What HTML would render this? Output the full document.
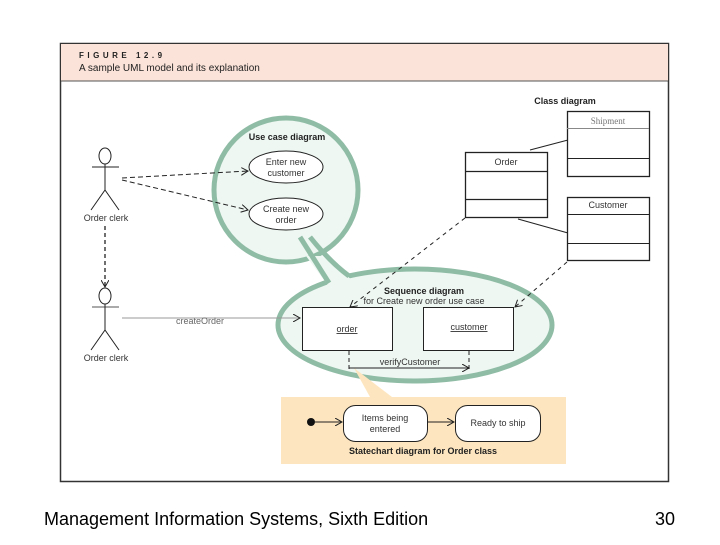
<!DOCTYPE html>
<html><head><style>
body{margin:0;background:#fff;width:720px;height:540px;overflow:hidden;font-family:"Liberation Sans",sans-serif}
</style></head><body>
<svg width="720" height="540" xmlns="http://www.w3.org/2000/svg" font-family="Liberation Sans, sans-serif">
<defs><marker id="a" markerWidth="8" markerHeight="8" refX="7" refY="4" orient="auto" markerUnits="userSpaceOnUse"><path d="M0,0 L7,4 L0,8" fill="none" stroke="#222" stroke-width="1"/></marker></defs>
<rect x="60.5" y="43.5" width="608" height="438" fill="#fff" stroke="#333" stroke-width="1.5"/>
<rect x="61" y="44" width="607" height="37" fill="#fbe3d9"/>
<line x1="61" y1="81" x2="668" y2="81" stroke="#555"/>
<text x="79" y="58" font-size="8" font-weight="bold" letter-spacing="3.5" fill="#222">FIGURE 12.9</text>
<text x="79" y="71" font-size="10" fill="#222">A sample UML model and its explanation</text>
<ellipse cx="415" cy="325" rx="137" ry="56" fill="#eef7f2" stroke="#8fbca5" stroke-width="5"/>
<ellipse cx="286" cy="190" rx="72" ry="72" fill="#eef7f2" stroke="#8fbca5" stroke-width="5"/>
<polygon points="306,256 322,256 352,280 330,288" fill="#eef7f2"/>
<g stroke="#8fbca5" stroke-width="5" fill="none">
<line x1="300" y1="237" x2="329" y2="283"/>
<path d="M310,237 Q330,262 349,276"/>
</g>
<rect x="281" y="397" width="285" height="67" fill="#fde6bf"/>
<path d="M354,368 L370,397 L392,397 Z" fill="#fde6bf"/>
<text x="287" y="140" font-size="9" font-weight="bold" text-anchor="middle" fill="#222">Use case diagram</text>
<ellipse cx="286" cy="167" rx="37" ry="16" fill="#fff" stroke="#222"/>
<text x="286" y="165" font-size="9" text-anchor="middle" fill="#333">Enter new</text>
<text x="286" y="176" font-size="9" text-anchor="middle" fill="#333">customer</text>
<ellipse cx="286" cy="214" rx="37" ry="16" fill="#fff" stroke="#222"/>
<text x="286" y="212" font-size="9" text-anchor="middle" fill="#333">Create new</text>
<text x="286" y="223" font-size="9" text-anchor="middle" fill="#333">order</text>
<g stroke="#222" fill="none">
<ellipse cx="105" cy="156" rx="6" ry="8"/><line x1="92" y1="167" x2="119" y2="167"/><line x1="105" y1="164" x2="105" y2="190"/><path d="M91,210 L105,190 L119,210"/>
<ellipse cx="105" cy="296" rx="6" ry="8"/><line x1="92" y1="307" x2="119" y2="307" stroke="#aaa" stroke-width="2"/><line x1="105" y1="304" x2="105" y2="330"/><path d="M91,350 L105,330 L119,350"/>
<line x1="105" y1="226" x2="105" y2="287" stroke-dasharray="4,3" stroke-width="1.3" marker-end="url(#a)"/>
<line x1="122" y1="178" x2="248" y2="171" stroke-dasharray="5,3" marker-end="url(#a)"/>
<line x1="122" y1="180" x2="248" y2="210" stroke-dasharray="5,3" marker-end="url(#a)"/>
<line x1="122" y1="318" x2="300" y2="318" stroke="#999" marker-end="url(#a)"/>
<line x1="465" y1="218" x2="350" y2="307" stroke-dasharray="4,4" marker-end="url(#a)"/>
<line x1="567" y1="262" x2="515" y2="307" stroke-dasharray="4,4" marker-end="url(#a)"/>
<line x1="530" y1="150" x2="568" y2="140"/>
<line x1="518" y1="219" x2="568" y2="233"/>
</g>
<text x="106" y="221" font-size="9" text-anchor="middle" fill="#333">Order clerk</text>
<text x="106" y="361" font-size="9" text-anchor="middle" fill="#333">Order clerk</text>
<text x="200" y="324" font-size="9" text-anchor="middle" fill="#666">createOrder</text>
<text x="565" y="104" font-size="9" font-weight="bold" text-anchor="middle" fill="#222">Class diagram</text>
<g fill="#fff" stroke="#222" stroke-width="1.3">
<rect x="465.5" y="152.5" width="82" height="65"/><line x1="465" y1="171.5" x2="547" y2="171.5"/><line x1="465" y1="199.5" x2="547" y2="199.5"/>
<rect x="567.5" y="111.5" width="82" height="65"/><line x1="567" y1="128.5" x2="649" y2="128.5" stroke="#888" stroke-width="1"/><line x1="567" y1="158.5" x2="649" y2="158.5" stroke-width="1"/>
<rect x="567.5" y="197.5" width="82" height="63"/><line x1="567" y1="214.5" x2="649" y2="214.5" stroke-width="1"/><line x1="567" y1="243.5" x2="649" y2="243.5" stroke-width="1"/>
</g>
<text x="506" y="165" font-size="9" text-anchor="middle" fill="#333">Order</text>
<text x="608" y="124" font-size="9" text-anchor="middle" fill="#777" font-family="Liberation Serif, serif">Shipment</text>
<text x="608" y="208" font-size="9" text-anchor="middle" fill="#333">Customer</text>
<text x="424" y="294" font-size="9" font-weight="bold" text-anchor="middle" fill="#222">Sequence diagram</text>
<text x="424" y="304" font-size="9" text-anchor="middle" fill="#333">for Create new order use case</text>
<rect x="302.5" y="307.5" width="90" height="43" fill="#fff" stroke="#222"/>
<rect x="423.5" y="307.5" width="90" height="43" fill="#fff" stroke="#222"/>
<text x="347" y="332" font-size="9" text-anchor="middle" fill="#333" text-decoration="underline">order</text>
<text x="469" y="330" font-size="9" text-anchor="middle" fill="#333" text-decoration="underline">customer</text>
<g stroke="#222" fill="none">
<line x1="349" y1="351" x2="349" y2="372" stroke-dasharray="4,3"/>
<line x1="469" y1="351" x2="469" y2="372" stroke-dasharray="4,3"/>
<line x1="349" y1="368" x2="469" y2="368" marker-end="url(#a)"/>
</g>
<text x="410" y="365" font-size="9" text-anchor="middle" fill="#333">verifyCustomer</text>
<circle cx="311" cy="422" r="4" fill="#111"/>
<g stroke="#222" fill="none">
<line x1="315" y1="422" x2="342" y2="422" marker-end="url(#a)"/>
<line x1="427" y1="422" x2="454" y2="422" marker-end="url(#a)"/>
</g>
<rect x="343.5" y="405.5" width="84" height="36" rx="12" fill="#fff" stroke="#222"/>
<rect x="455.5" y="405.5" width="85" height="36" rx="12" fill="#fff" stroke="#222"/>
<text x="385" y="421" font-size="9" text-anchor="middle" fill="#333">Items being</text>
<text x="385" y="432" font-size="9" text-anchor="middle" fill="#333">entered</text>
<text x="498" y="426" font-size="9" text-anchor="middle" fill="#333">Ready to ship</text>
<text x="423" y="454" font-size="9" font-weight="bold" text-anchor="middle" fill="#222">Statechart diagram for Order class</text>
<text x="44" y="525" font-size="18" fill="#000">Management Information Systems, Sixth Edition</text>
<text x="655" y="525" font-size="18" fill="#000">30</text>
</svg>
</body></html>
